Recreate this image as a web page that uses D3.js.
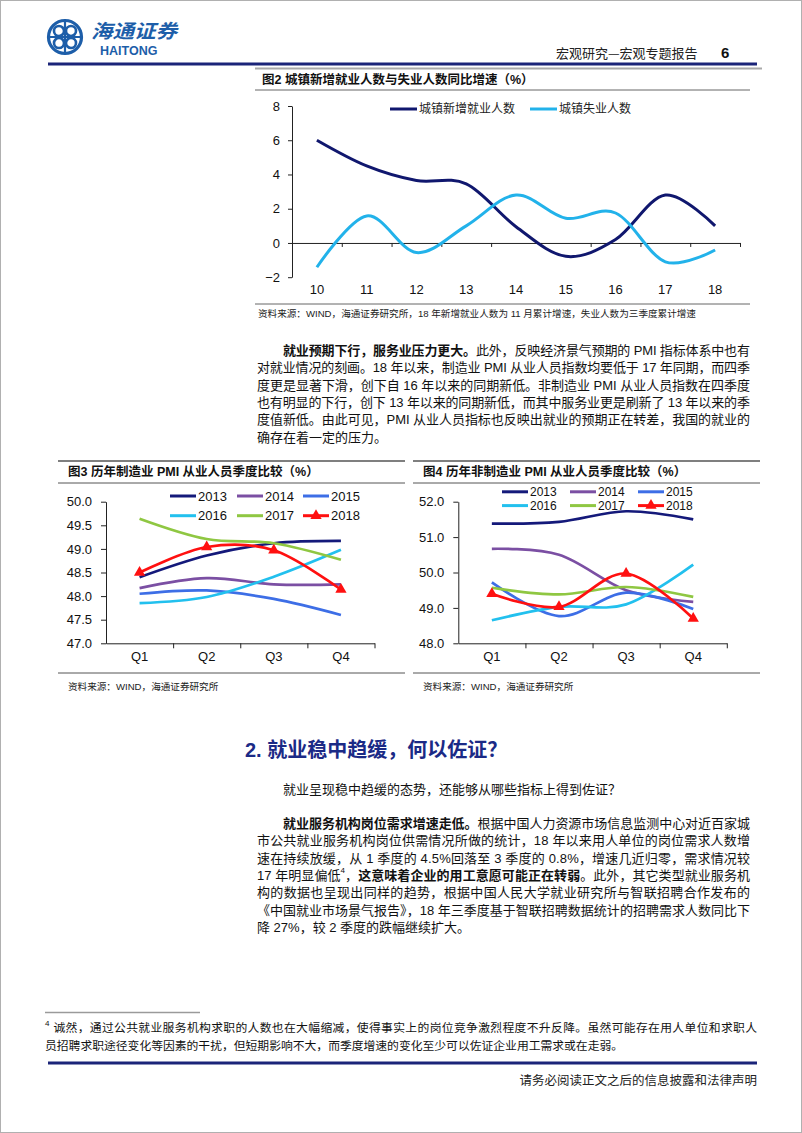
<!DOCTYPE html>
<html><head><meta charset="utf-8">
<script src="https://cdn.jsdelivr.net/npm/d3@7"></script>
<style>body{margin:0;background:#fff}svg{display:block}</style>
</head><body>
<svg id="page" width="802" height="1133"></svg>
<script>
// ---------- DATA ----------
const cats2 = ["10","11","12","13","14","15","16","17","18"];
const newJobs = [6.0, 4.5, 3.65, 3.45, 0.95, -0.78, 0.2, 2.8, 1.0];
const unemployed = [-1.42, 1.58, -0.56, 1.0, 2.8, 1.44, 1.75, -1.1, -0.41];
const names2 = ["城镇新增就业人数", "城镇失业人数"];
const ticks2 = [-2, 0, 2, 4, 6, 8];

const quarters = ["Q1", "Q2", "Q3", "Q4"];
const pmiYears = ["2013", "2014", "2015", "2016", "2017", "2018"];
const mfg2013 = [48.4, 48.86, 49.12, 49.17];
const mfg2014 = [48.17, 48.38, 48.25, 48.25];
const mfg2015 = [48.05, 48.12, 47.94, 47.6];
const mfg2016 = [47.85, 47.98, 48.41, 48.98];
const mfg2017 = [49.64, 49.21, 49.12, 48.77];
const mfg2018 = [48.5, 49.04, 48.97, 48.14];
const ticks3 = [47.0, 47.5, 48.0, 48.5, 49.0, 49.5, 50.0];

const nm2013 = [51.38, 51.43, 51.73, 51.5];
const nm2014 = [50.67, 50.5, 49.5, 49.17];
const nm2015 = [49.72, 48.77, 49.43, 48.97];
const nm2016 = [48.65, 49.03, 49.1, 50.22];
const nm2017 = [49.57, 49.38, 49.59, 49.31];
const nm2018 = [49.4, 49.03, 49.97, 48.7];
const ticks4 = [48.0, 49.0, 50.0, 51.0, 52.0];

// ---------- STYLE ----------
const LAT = "'Liberation Sans', Arial, 'Noto Sans CJK SC', sans-serif";
const CJK = "'Liberation Sans', 'Noto Sans CJK SC', sans-serif";
const yearColors = ["#14197a", "#7b4fa3", "#3d6ee6", "#22c0ee", "#8fc742", "#ff1010"];
const svg = d3.select("#page");
const smooth = d3.curveCardinal.tension(0);

svg.append("rect").attr("x", 0.5).attr("y", 0.5).attr("width", 801).attr("height", 1132)
  .attr("fill", "none").attr("stroke", "#b0b0b0").attr("stroke-width", 1);

function hline(x1, x2, y, color, w) {
  svg.append("line").attr("x1", x1).attr("x2", x2).attr("y1", y).attr("y2", y)
    .attr("stroke", color).attr("stroke-width", w);
}
function txt(x, y, s, size, opts = {}) {
  const t = svg.append("text").attr("x", x).attr("y", y).attr("font-size", size)
    .attr("font-family", opts.family || CJK).attr("fill", opts.fill || "#111")
    .attr("dominant-baseline", "central").text(s);
  if (opts.bold) t.attr("font-weight", "bold");
  if (opts.anchor) t.attr("text-anchor", opts.anchor);
  return t;
}
function line(x, y, parts, size, width) {
  const t = svg.append("text").attr("x", x).attr("y", y).attr("font-size", size)
    .attr("font-family", CJK).attr("fill", "#111").attr("dominant-baseline", "central");
  let up = false;
  parts.forEach(p => {
    const ts = t.append("tspan").text(p[0]);
    if (p[1] === "b") ts.attr("font-weight", "bold");
    if (p[1] === "sup") { ts.attr("font-size", 8).attr("dy", -5); up = true; }
    else if (up) { ts.attr("dy", 5); up = false; }
  });
  if (width) t.attr("textLength", width).attr("lengthAdjust", "spacing");
  return t;
}

// ---------- PAGE HEADER ----------
const logo = svg.append("g").attr("transform", "translate(65,37)");
logo.append("circle").attr("r", 16.5).attr("fill", "none").attr("stroke", "#1d5ea9").attr("stroke-width", 3.2);
[[-6, -6], [6, -6], [-6, 6], [6, 6]].forEach(([cx, cy]) => {
  logo.append("circle").attr("cx", cx).attr("cy", cy).attr("r", 5).attr("fill", "none")
    .attr("stroke", "#1d5ea9").attr("stroke-width", 2.6);
});
logo.append("path").attr("d", "M-15,0 L15,0 M0,-15 L0,15").attr("stroke", "#1d5ea9").attr("stroke-width", 2.2);
txt(91, 29.5, "海通证券", 19, { fill: "#1d5ea9", family: "'Noto Sans CJK SC', sans-serif", bold: true })
  .attr("font-style", "italic").attr("textLength", 86).attr("lengthAdjust", "spacingAndGlyphs");
txt(100, 51, "HAITONG", 12.5, { fill: "#1d5ea9", family: LAT, bold: true });
txt(556, 52, "宏观研究—宏观专题报告", 13, { fill: "#222", family: "'Noto Sans CJK SC', sans-serif" });
txt(721, 52, "6", 15, { family: LAT, bold: true, fill: "#111" });
hline(48, 757, 64, "#1b2479", 3);
hline(255, 762, 68.5, "#a9a9a9", 2);

// ---------- FIGURE 2 ----------
txt(262, 80, "图2  城镇新增就业人数与失业人数同比增速（%）", 12.5, { bold: true });
hline(255, 750, 90, "#666", 1);
{
  const x = d3.scaleBand().domain(cats2).range([292, 740]);
  const y = d3.scaleLinear().domain([-2, 8]).range([277.2, 106]);
  const g = svg.append("g");
  const ya = g.append("g").attr("transform", "translate(292,0)")
    .call(d3.axisLeft(y).tickValues(ticks2).tickSize(4).tickSizeOuter(0).tickPadding(8));
  const xt = d3.scaleLinear().domain([0, cats2.length]).range([292, 740]);
  const xa = g.append("g").attr("transform", `translate(0,${y(0)})`)
    .call(d3.axisBottom(xt).tickValues(d3.range(1, cats2.length + 1)).tickSize(4).tickSizeOuter(0).tickFormat(""));
  const xl = g.append("g").attr("transform", `translate(0,${y(-2)})`)
    .call(d3.axisBottom(x).tickSize(0).tickPadding(8));
  xl.select(".domain").remove();
  [ya, xa, xl].forEach(a => {
    a.selectAll("text").attr("font-size", 13).attr("font-family", LAT).attr("fill", "#111");
    a.selectAll("line,path").attr("stroke", "#222");
  });
  const series = [newJobs, unemployed];
  const cols = ["#10176e", "#22b2ea"];
  series.forEach((s, i) => {
    g.append("path").datum(s).attr("fill", "none").attr("stroke", cols[i]).attr("stroke-width", 3)
      .attr("d", d3.line().x((d, j) => x(cats2[j]) + x.bandwidth() / 2).y(d => y(d)).curve(smooth));
  });
  const lx = [390, 530];
  names2.forEach((n, i) => {
    g.append("line").attr("x1", lx[i]).attr("x2", lx[i] + 27).attr("y1", 109).attr("y2", 109)
      .attr("stroke", cols[i]).attr("stroke-width", 3);
    g.append("text").attr("x", lx[i] + 29).attr("y", 109).attr("dominant-baseline", "central")
      .attr("font-size", 12).attr("font-family", CJK).attr("fill", "#222").text(n);
  });
}
hline(255, 750, 304, "#666", 1);
txt(258, 313, "资料来源：WIND，海通证券研究所，18 年新增就业人数为 11 月累计增速，失业人数为三季度累计增速", 9.6, { fill: "#222" });

// ---------- PARAGRAPH 1 ----------
const pW = 493, pX = 257;
line(pX + 26, 350, [["就业预期下行，服务业压力更大。", "b"], ["此外，反映经济景气预期的 PMI 指标体系中也有"]], 13, pW - 26);
line(pX, 367.3, [["对就业情况的刻画。18 年以来，制造业 PMI 从业人员指数均要低于 17 年同期，而四季"]], 13, pW);
line(pX, 384.6, [["度更是显著下滑，创下自 16 年以来的同期新低。非制造业 PMI 从业人员指数在四季度"]], 13, pW);
line(pX, 401.9, [["也有明显的下行，创下 13 年以来的同期新低，而其中服务业更是刷新了 13 年以来的季"]], 13, pW);
line(pX, 419.2, [["度值新低。由此可见，PMI 从业人员指标也反映出就业的预期正在转差，我国的就业的"]], 13, pW);
line(pX, 436.5, [["确存在着一定的压力。"]], 13);

// ---------- FIGURES 3 & 4 ----------
function pmiChart(o) {
  hline(o.bx1, o.bx2, 461, "#555", 1.3);
  txt(o.bx1 + 10, 471.5, o.title, 12.5, { bold: true });
  hline(o.bx1, o.bx2, 483, "#555", 1);
  hline(o.bx1, o.bx2, 673, "#555", 1);
  txt(o.bx1 + 10, 686, "资料来源：WIND，海通证券研究所", 9.6, { fill: "#222" });
  const x = d3.scaleBand().domain(quarters).range(o.xr);
  const y = d3.scaleLinear().domain(o.yd).range([643.3, 501.7]);
  const g = svg.append("g");
  const ya = g.append("g").attr("transform", `translate(${o.xr[0]},0)`)
    .call(d3.axisLeft(y).tickValues(o.ticks).tickFormat(d3.format(".1f")).tickSize(5).tickSizeOuter(0).tickPadding(9));
  const xt = d3.scaleLinear().domain([0, 4]).range(o.xr);
  const xa = g.append("g").attr("transform", `translate(0,${y(o.yd[0])})`)
    .call(d3.axisBottom(xt).tickValues([1, 2, 3, 4]).tickSize(5).tickSizeOuter(0).tickFormat(""));
  const xl = g.append("g").attr("transform", `translate(0,${y(o.yd[0])})`)
    .call(d3.axisBottom(x).tickSize(0).tickPadding(8));
  xl.select(".domain").remove();
  [ya, xa, xl].forEach(a => {
    a.selectAll("text").attr("font-size", 13).attr("font-family", LAT).attr("fill", "#111");
    a.selectAll("line,path").attr("stroke", "#222");
  });
  const lg = d3.line().x((d, j) => x(quarters[j]) + x.bandwidth() / 2).y(d => y(d)).curve(smooth);
  o.series.forEach((s, i) => {
    g.append("path").datum(s).attr("fill", "none").attr("stroke", yearColors[i])
      .attr("stroke-width", 2.7).attr("d", lg);
  });
  const last = o.series[5];
  g.selectAll(".tri").data(last).join("path")
    .attr("transform", (d, j) => `translate(${x(quarters[j]) + x.bandwidth() / 2},${y(d)})`)
    .attr("d", d3.symbol(d3.symbolTriangle, 55)).attr("fill", yearColors[5]);
  pmiYears.forEach((yr, i) => {
    const lx = o.lx[i % 3], ly = o.ly[Math.floor(i / 3)];
    g.append("line").attr("x1", lx).attr("x2", lx + 26).attr("y1", ly).attr("y2", ly)
      .attr("stroke", yearColors[i]).attr("stroke-width", 3);
    if (i === 5) g.append("path").attr("transform", `translate(${lx + 13},${ly})`)
      .attr("d", d3.symbol(d3.symbolTriangle, 55)).attr("fill", yearColors[5]);
    g.append("text").attr("x", lx + 28).attr("y", ly).attr("dominant-baseline", "central")
      .attr("font-size", o.lfs).attr("font-family", LAT).attr("fill", "#111").text(yr);
  });
}
pmiChart({
  bx1: 58, bx2: 405, title: "图3  历年制造业 PMI 从业人员季度比较（%）",
  xr: [106, 374.5], yd: [47, 50], ticks: ticks3,
  series: [mfg2013, mfg2014, mfg2015, mfg2016, mfg2017, mfg2018],
  lx: [170, 237, 303], ly: [496, 515.7], lfs: 13
});
pmiChart({
  bx1: 413, bx2: 760, title: "图4  历年非制造业 PMI 从业人员季度比较（%）",
  xr: [458.3, 726.8], yd: [48, 52], ticks: ticks4,
  series: [nm2013, nm2014, nm2015, nm2016, nm2017, nm2018],
  lx: [502, 570, 638], ly: [491.8, 505.6], lfs: 12
});

// ---------- SECTION 2 ----------
txt(245, 750, "2.  就业稳中趋缓，何以佐证？", 20, { fill: "#1b2a86", family: "'Liberation Sans', 'Noto Sans CJK SC', sans-serif", bold: true });
line(pX + 26, 789, [["就业呈现稳中趋缓的态势，还能够从哪些指标上得到佐证？"]], 13);
const L = 17.33, y0 = 823;
line(pX + 26, y0, [["就业服务机构岗位需求增速走低。", "b"], ["根据中国人力资源市场信息监测中心对近百家城"]], 13, pW - 26);
line(pX, y0 + L, [["市公共就业服务机构岗位供需情况所做的统计，18 年以来用人单位的岗位需求人数增"]], 13, pW);
line(pX, y0 + 2 * L, [["速在持续放缓，从 1 季度的 4.5%回落至 3 季度的 0.8%，增速几近归零，需求情况较"]], 13, pW);
line(pX, y0 + 3 * L, [["17 年明显偏低"], ["4", "sup"], ["，"], ["这意味着企业的用工意愿可能正在转弱", "b"], ["。此外，其它类型就业服务机"]], 13, pW);
line(pX, y0 + 4 * L, [["构的数据也呈现出同样的趋势，根据中国人民大学就业研究所与智联招聘合作发布的"]], 13, pW);
line(pX, y0 + 5 * L, [["《中国就业市场景气报告》，18 年三季度基于智联招聘数据统计的招聘需求人数同比下"]], 13, pW);
line(pX, y0 + 6 * L, [["降 27%，较 2 季度的跌幅继续扩大。"]], 13);

// ---------- FOOTNOTE & FOOTER ----------
hline(45, 200, 1012.5, "#9a9a9a", 1.5);
line(45, 1028, [["4", "sup"], [" 诚然，通过公共就业服务机构求职的人数也在大幅缩减，使得事实上的岗位竞争激烈程度不升反降。虽然可能存在用人单位和求职人"]], 11.8, 712);
line(45, 1046, [["员招聘求职途径变化等因素的干扰，但短期影响不大，而季度增速的变化至少可以佐证企业用工需求或在走弱。"]], 11.8);
hline(48, 757, 1063, "#1b2479", 3);
txt(757, 1081, "请务必阅读正文之后的信息披露和法律声明", 12.5, { anchor: "end", fill: "#222" });
</script>
</body></html>
